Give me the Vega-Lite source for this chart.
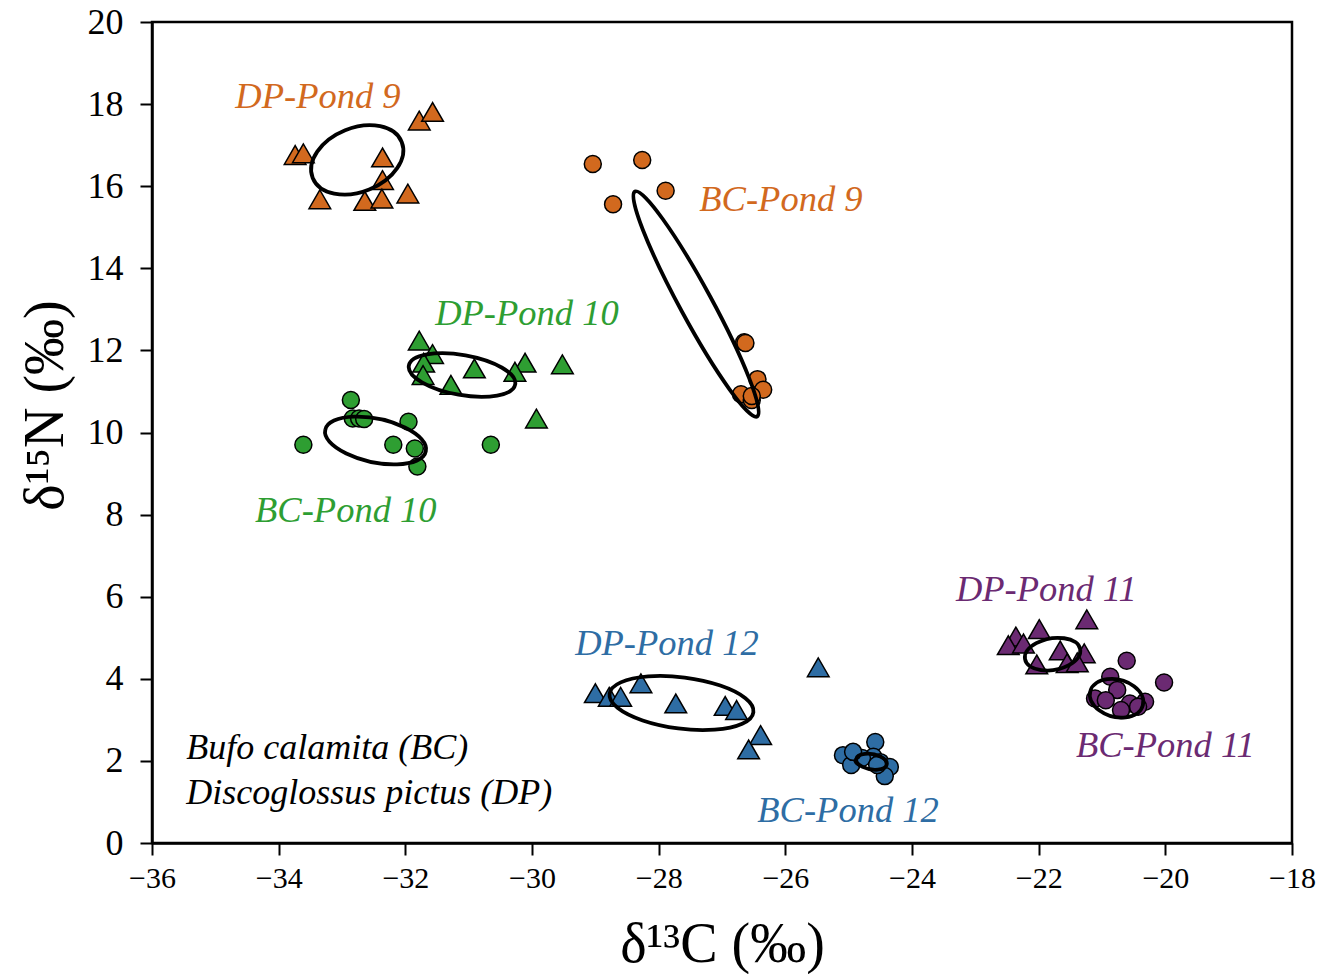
{
  "$schema": "https://vega.github.io/schema/vega-lite/v6.json",
  "autosize": "none",
  "width": 1140,
  "height": 821,
  "padding": {"left": 152, "top": 22, "right": 32, "bottom": 131},
  "background": "white",
  "config": {
    "view": {"stroke": "black", "strokeWidth": 2.5},
    "axis": {
      "grid": false,
      "domainColor": "black",
      "domainWidth": 2.5,
      "tickColor": "black",
      "tickWidth": 2,
      "tickSize": 12,
      "labelFont": "Liberation Serif",
      "labelColor": "black",
      "labelFlush": false,
      "labelOverlap": false,
      "titleFont": "Liberation Serif",
      "titleFontSize": 56,
      "titleFontWeight": "normal",
      "titleColor": "black"
    }
  },
  "datasets": {
    "points": [
      {"x": -33.74, "y": 16.76, "sp": "DP", "pond": "9"},
      {"x": -33.61, "y": 16.80, "sp": "DP", "pond": "9"},
      {"x": -32.36, "y": 16.70, "sp": "DP", "pond": "9"},
      {"x": -31.78, "y": 17.60, "sp": "DP", "pond": "9"},
      {"x": -31.57, "y": 17.81, "sp": "DP", "pond": "9"},
      {"x": -32.36, "y": 16.15, "sp": "DP", "pond": "9"},
      {"x": -33.35, "y": 15.68, "sp": "DP", "pond": "9"},
      {"x": -32.64, "y": 15.64, "sp": "DP", "pond": "9"},
      {"x": -32.37, "y": 15.70, "sp": "DP", "pond": "9"},
      {"x": -31.96, "y": 15.82, "sp": "DP", "pond": "9"},
      {"x": -29.04, "y": 16.54, "sp": "BC", "pond": "9"},
      {"x": -28.26, "y": 16.64, "sp": "BC", "pond": "9"},
      {"x": -27.89, "y": 15.89, "sp": "BC", "pond": "9"},
      {"x": -28.72, "y": 15.56, "sp": "BC", "pond": "9"},
      {"x": -26.65, "y": 12.20, "sp": "BC", "pond": "9"},
      {"x": -26.63, "y": 12.18, "sp": "BC", "pond": "9"},
      {"x": -26.44, "y": 11.30, "sp": "BC", "pond": "9"},
      {"x": -26.35, "y": 11.04, "sp": "BC", "pond": "9"},
      {"x": -26.70, "y": 10.93, "sp": "BC", "pond": "9"},
      {"x": -26.53, "y": 10.79, "sp": "BC", "pond": "9"},
      {"x": -26.53, "y": 10.89, "sp": "BC", "pond": "9"},
      {"x": -31.78, "y": 12.24, "sp": "DP", "pond": "10"},
      {"x": -31.57, "y": 11.91, "sp": "DP", "pond": "10"},
      {"x": -31.71, "y": 11.70, "sp": "DP", "pond": "10"},
      {"x": -31.72, "y": 11.40, "sp": "DP", "pond": "10"},
      {"x": -31.28, "y": 11.16, "sp": "DP", "pond": "10"},
      {"x": -30.91, "y": 11.56, "sp": "DP", "pond": "10"},
      {"x": -30.11, "y": 11.70, "sp": "DP", "pond": "10"},
      {"x": -30.27, "y": 11.48, "sp": "DP", "pond": "10"},
      {"x": -29.52, "y": 11.66, "sp": "DP", "pond": "10"},
      {"x": -29.93, "y": 10.34, "sp": "DP", "pond": "10"},
      {"x": -32.86, "y": 10.79, "sp": "BC", "pond": "10"},
      {"x": -32.83, "y": 10.34, "sp": "BC", "pond": "10"},
      {"x": -32.73, "y": 10.34, "sp": "BC", "pond": "10"},
      {"x": -32.65, "y": 10.33, "sp": "BC", "pond": "10"},
      {"x": -31.95, "y": 10.26, "sp": "BC", "pond": "10"},
      {"x": -33.61, "y": 9.70, "sp": "BC", "pond": "10"},
      {"x": -32.19, "y": 9.70, "sp": "BC", "pond": "10"},
      {"x": -31.85, "y": 9.61, "sp": "BC", "pond": "10"},
      {"x": -31.81, "y": 9.17, "sp": "BC", "pond": "10"},
      {"x": -30.65, "y": 9.70, "sp": "BC", "pond": "10"},
      {"x": -29.00, "y": 3.65, "sp": "DP", "pond": "12"},
      {"x": -28.78, "y": 3.56, "sp": "DP", "pond": "12"},
      {"x": -28.60, "y": 3.56, "sp": "DP", "pond": "12"},
      {"x": -28.28, "y": 3.89, "sp": "DP", "pond": "12"},
      {"x": -27.73, "y": 3.40, "sp": "DP", "pond": "12"},
      {"x": -26.95, "y": 3.34, "sp": "DP", "pond": "12"},
      {"x": -26.77, "y": 3.24, "sp": "DP", "pond": "12"},
      {"x": -25.48, "y": 4.28, "sp": "DP", "pond": "12"},
      {"x": -26.39, "y": 2.63, "sp": "DP", "pond": "12"},
      {"x": -26.58, "y": 2.28, "sp": "DP", "pond": "12"},
      {"x": -25.09, "y": 2.14, "sp": "BC", "pond": "12"},
      {"x": -24.96, "y": 1.90, "sp": "BC", "pond": "12"},
      {"x": -24.58, "y": 2.46, "sp": "BC", "pond": "12"},
      {"x": -24.61, "y": 2.10, "sp": "BC", "pond": "12"},
      {"x": -24.50, "y": 1.97, "sp": "BC", "pond": "12"},
      {"x": -24.35, "y": 1.85, "sp": "BC", "pond": "12"},
      {"x": -24.43, "y": 1.63, "sp": "BC", "pond": "12"},
      {"x": -24.79, "y": 2.07, "sp": "BC", "pond": "12"},
      {"x": -24.55, "y": 1.90, "sp": "BC", "pond": "12"},
      {"x": -24.93, "y": 2.22, "sp": "BC", "pond": "12"},
      {"x": -21.24, "y": 5.45, "sp": "DP", "pond": "11"},
      {"x": -21.99, "y": 5.21, "sp": "DP", "pond": "11"},
      {"x": -22.36, "y": 5.03, "sp": "DP", "pond": "11"},
      {"x": -22.48, "y": 4.82, "sp": "DP", "pond": "11"},
      {"x": -22.24, "y": 4.86, "sp": "DP", "pond": "11"},
      {"x": -21.66, "y": 4.69, "sp": "DP", "pond": "11"},
      {"x": -21.28, "y": 4.62, "sp": "DP", "pond": "11"},
      {"x": -22.03, "y": 4.35, "sp": "DP", "pond": "11"},
      {"x": -21.55, "y": 4.38, "sp": "DP", "pond": "11"},
      {"x": -21.39, "y": 4.40, "sp": "DP", "pond": "11"},
      {"x": -20.61, "y": 4.44, "sp": "BC", "pond": "11"},
      {"x": -20.02, "y": 3.91, "sp": "BC", "pond": "11"},
      {"x": -20.87, "y": 4.05, "sp": "BC", "pond": "11"},
      {"x": -20.76, "y": 3.73, "sp": "BC", "pond": "11"},
      {"x": -21.11, "y": 3.52, "sp": "BC", "pond": "11"},
      {"x": -20.94, "y": 3.48, "sp": "BC", "pond": "11"},
      {"x": -20.56, "y": 3.40, "sp": "BC", "pond": "11"},
      {"x": -20.32, "y": 3.44, "sp": "BC", "pond": "11"},
      {"x": -20.70, "y": 3.24, "sp": "BC", "pond": "11"},
      {"x": -20.43, "y": 3.32, "sp": "BC", "pond": "11"}
    ],
    "ellipses": [
      {"x": -32.76, "y": 16.64, "group": "DP9"},
      {"x": -27.41, "y": 13.13, "group": "BC9"},
      {"x": -31.105, "y": 11.40, "group": "DP10"},
      {"x": -32.47, "y": 9.805, "group": "BC10"},
      {"x": -27.64, "y": 3.41, "group": "DP12"},
      {"x": -24.64, "y": 1.98, "group": "BC12"},
      {"x": -21.78, "y": 4.60, "group": "DP11"},
      {"x": -20.77, "y": 3.525, "group": "BC11"}
    ],
    "labels": [
      {"text": "DP-Pond 9", "x": -33.38, "y": 18.17, "pond": "9"},
      {"text": "BC-Pond 9", "x": -26.07, "y": 15.66, "pond": "9"},
      {"text": "DP-Pond 10", "x": -30.08, "y": 12.89, "pond": "10"},
      {"text": "BC-Pond 10", "x": -32.94, "y": 8.09, "pond": "10"},
      {"text": "DP-Pond 12", "x": -27.87, "y": 4.85, "pond": "12"},
      {"text": "BC-Pond 12", "x": -25.01, "y": 0.78, "pond": "12"},
      {"text": "DP-Pond 11", "x": -21.88, "y": 6.16, "pond": "11"},
      {"text": "BC-Pond 11", "x": -20.0, "y": 2.36, "pond": "11"}
    ],
    "species": [
      {"text": "Bufo calamita (BC)", "x": -35.46, "y": 2.31},
      {"text": "Discoglossus pictus (DP)", "x": -35.46, "y": 1.22}
    ]
  },
  "encoding": {
    "x": {
      "field": "x", "type": "quantitative",
      "scale": {"domain": [-36, -18], "nice": false, "zero": false},
      "axis": {"values": [-36, -34, -32, -30, -28, -26, -24, -22, -20, -18], "title": "δ¹³C (‰)", "labelFontSize": 30, "labelPadding": 8, "titleY": 118, "titleBaseline": "alphabetic"}
    },
    "y": {
      "field": "y", "type": "quantitative",
      "scale": {"domain": [0, 20], "nice": false, "zero": false},
      "axis": {"values": [0, 2, 4, 6, 8, 10, 12, 14, 16, 18, 20], "title": "δ¹⁵N (‰)", "labelFontSize": 36, "labelPadding": 17, "titleX": -90, "titleY": 383, "titleBaseline": "alphabetic", "titleAngle": -90}
    }
  },
  "layer": [
    {
      "data": {"name": "points"},
      "mark": {"type": "point", "filled": true, "stroke": "black", "strokeWidth": 1.5, "opacity": 1},
      "encoding": {
        "shape": {"field": "sp", "type": "nominal", "scale": {"domain": ["BC", "DP"], "range": ["circle", "triangle-up"]}, "legend": null},
        "size": {"field": "sp", "type": "nominal", "scale": {"domain": ["BC", "DP"], "range": [289, 470]}, "legend": null},
        "fill": {"field": "pond", "type": "nominal", "scale": {"domain": ["9", "10", "11", "12"], "range": ["#D2691E", "#2E9E32", "#6B2A72", "#2E6DA4"]}, "legend": null}
      }
    },
    {
      "data": {"name": "ellipses"},
      "mark": {"type": "point", "filled": false, "stroke": "black", "strokeWidth": 3.8, "size": 4, "opacity": 1},
      "encoding": {
        "shape": {
          "field": "group", "type": "nominal", "legend": null,
          "scale": {
            "domain": ["DP9", "BC9", "DP10", "BC10", "DP12", "BC12", "DP11", "BC11"],
            "range": [
              "M 44.5 -18 A 48 32 -22 1 1 -44.5 18 A 48 32 -22 1 1 44.5 -18 Z",
              "M 61.1 112.5 A 128 16 61.5 1 1 -61.1 -112.5 A 128 16 61.5 1 1 61.1 112.5 Z",
              "M 53.18 9.38 A 54 20 10 1 1 -53.18 -9.38 A 54 20 10 1 1 53.18 9.38 Z",
              "M 50.27 10.69 A 51.4 21.4 12 1 1 -50.27 -10.69 A 51.4 21.4 12 1 1 50.27 10.69 Z",
              "M 71.92 9.15 A 72.5 25.6 7.25 1 1 -71.92 -9.15 A 72.5 25.6 7.25 1 1 71.92 9.15 Z",
              "M 15.26 2.69 A 15.5 7.5 10 1 1 -15.26 -2.69 A 15.5 7.5 10 1 1 15.26 2.69 Z",
              "M 27.57 -4.86 A 28 15.5 -10 1 1 -27.57 4.86 A 28 15.5 -10 1 1 27.57 -4.86 Z",
              "M 26.27 7.04 A 27.2 18.3 15 1 1 -26.27 -7.04 A 27.2 18.3 15 1 1 26.27 7.04 Z"
            ]
          }
        }
      }
    },
    {
      "data": {"name": "labels"},
      "mark": {"type": "text", "font": "Liberation Serif", "fontStyle": "italic", "fontSize": 36.5, "align": "center", "baseline": "middle"},
      "encoding": {
        "text": {"field": "text"},
        "fill": {"field": "pond", "type": "nominal", "legend": null}
      }
    },
    {
      "data": {"name": "species"},
      "mark": {"type": "text", "font": "Liberation Serif", "fontStyle": "italic", "fontSize": 36, "align": "left", "baseline": "middle", "color": "black"},
      "encoding": {
        "text": {"field": "text"}
      }
    }
  ],
  "resolve": {"scale": {"shape": "independent", "size": "independent"}}
}
